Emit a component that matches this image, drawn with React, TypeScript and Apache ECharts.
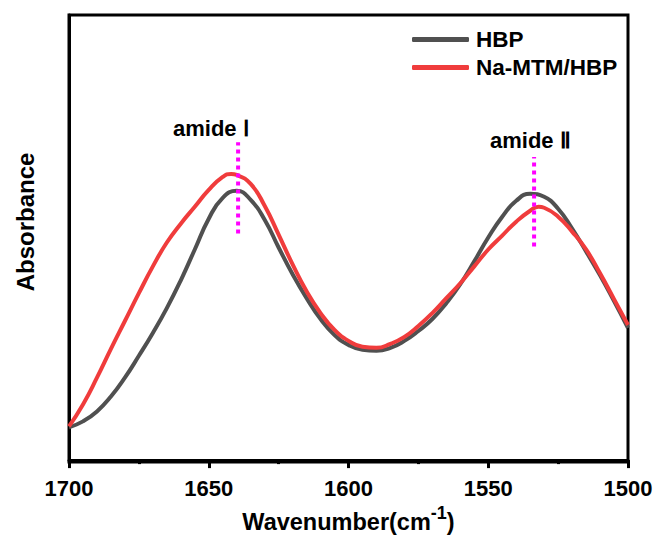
import React, { useEffect, useRef } from "react";
import * as echarts from "echarts";

const xTicks = [1700, 1650, 1600, 1550, 1500];

const hbpX = [1700, 1695, 1690, 1685, 1680, 1675, 1670, 1665, 1660, 1655, 1650, 1645, 1640, 1635, 1630, 1625, 1620, 1615, 1610, 1605, 1600, 1595, 1590, 1585, 1580, 1575, 1570, 1565, 1560, 1555, 1550, 1545, 1540, 1535, 1530, 1525, 1520, 1515, 1510, 1505, 1500];
const hbpY = [33, 39, 49, 64, 83, 105, 128, 153, 181, 212, 243, 264, 271, 262, 242, 214, 187, 163, 142, 126, 116, 111, 110, 113, 120, 130, 142, 158, 177, 200, 224, 245, 261, 268, 265, 253, 233, 210, 186, 160, 133];

const naX = [1700, 1695, 1690, 1685, 1680, 1675, 1670, 1665, 1660, 1655, 1650, 1645, 1642, 1640, 1635, 1630, 1625, 1620, 1615, 1610, 1605, 1600, 1595, 1590, 1585, 1580, 1575, 1570, 1565, 1560, 1555, 1550, 1545, 1540, 1535, 1532, 1530, 1525, 1520, 1515, 1510, 1505, 1500];
const naY = [34, 56, 83, 112, 140, 168, 195, 219, 238, 255, 272, 285, 288, 287, 278, 256, 227, 197, 170, 148, 131, 120, 114, 113, 117, 124, 135, 148, 163, 178, 195, 212, 226, 240, 251, 255, 254, 245, 230, 212, 188, 162, 136];

const amide1X = [1639.5, 1639.5];
const amide1Y = [228, 320];
const amide2X = [1533.6, 1533.6];
const amide2Y = [215, 305];

const seriesNames = ["HBP", "Na-MTM/HBP"];
const annotations = ["amide Ⅰ", "amide Ⅱ"];

const zip = (xs: number[], ys: number[]) => xs.map((x, i) => [x, ys[i]]);

const FONT = "'Liberation Sans', Arial, sans-serif";

export default function App() {
  const ref = useRef<HTMLDivElement>(null);
  useEffect(() => {
    if (!ref.current) return;
    const chart = echarts.init(ref.current, undefined, { renderer: "svg" });
    chart.setOption({
      animation: false,
      backgroundColor: "#ffffff",
      grid: {
        left: 69,
        right: 29,
        top: 15,
        bottom: 74,
        show: true,
        borderColor: "#000",
        borderWidth: 3,
        containLabel: false,
      },
      legend: {
        data: seriesNames,
        orient: "vertical",
        left: 407,
        top: 23,
        itemWidth: 57,
        itemHeight: 5,
        itemGap: 5,
        icon: "roundRect",
        textStyle: { fontFamily: FONT, fontWeight: "bold", fontSize: 22.5, color: "#000", padding: [0, 0, 0, 2] },
      },
      xAxis: {
        type: "value",
        min: 1500,
        max: 1700,
        interval: 50,
        inverse: true,
        axisLine: { show: true, lineStyle: { color: "#000", width: 3 } },
        axisTick: { show: true, length: 8, lineStyle: { width: 3, color: "#000" } },
        minorTick: { show: true, splitNumber: 2, length: 4, lineStyle: { width: 3, color: "#000" } },
        splitLine: { show: false },
        axisLabel: {
          margin: 15,
          fontFamily: FONT,
          fontWeight: "bold",
          fontSize: 22,
          color: "#000",
          formatter: (v: number) => (xTicks.includes(v) ? String(v) : ""),
        },
        name: "{a|Wavenumber(cm}{b|-1}{a|)}",
        nameLocation: "middle",
        nameGap: 40,
        nameTextStyle: {
          rich: {
            a: { fontFamily: FONT, fontWeight: "bold", fontSize: 23.5, color: "#000", verticalAlign: "bottom", lineHeight: 30 },
            b: { fontFamily: FONT, fontWeight: "bold", fontSize: 18, color: "#000", verticalAlign: "top", padding: [0, 0, 12, 0], lineHeight: 30 },
          },
        },
      },
      yAxis: {
        type: "value",
        min: -2,
        max: 448,
        axisLine: { show: true, lineStyle: { color: "#000", width: 3 } },
        axisTick: { show: false },
        axisLabel: { show: false },
        splitLine: { show: false },
      },
      graphic: [
        {
          type: "text",
          x: 25,
          y: 222,
          rotation: Math.PI / 2,
          style: {
            text: "Absorbance",
            fontFamily: FONT,
            fontWeight: "bold",
            fontSize: 24,
            fill: "#000",
            align: "center",
            verticalAlign: "middle",
          },
        },
        {
          type: "text",
          x: 173,
          y: 128,
          style: {
            text: annotations[0],
            fontFamily: FONT,
            fontWeight: "bold",
            fontSize: 22,
            fill: "#000",
            align: "left",
            verticalAlign: "middle",
          },
        },
        {
          type: "text",
          x: 490,
          y: 140,
          style: {
            text: annotations[1],
            fontFamily: FONT,
            fontWeight: "bold",
            fontSize: 22,
            fill: "#000",
            align: "left",
            verticalAlign: "middle",
          },
        },
      ],
      series: [
        {
          name: "amide1",
          type: "line",
          data: zip(amide1X, amide1Y),
          showSymbol: false,
          lineStyle: { color: "#ff00ff", width: 4, type: [4, 4] },
          z: 3,
        },
        {
          name: "amide2",
          type: "line",
          data: zip(amide2X, amide2Y),
          showSymbol: false,
          lineStyle: { color: "#ff00ff", width: 4, type: [4, 4] },
          z: 3,
        },
        {
          name: seriesNames[0],
          type: "line",
          data: zip(hbpX, hbpY),
          showSymbol: false,
          smooth: 0.5,
          color: "#505050",
          lineStyle: { color: "#505050", width: 4 },
          z: 2,
        },
        {
          name: seriesNames[1],
          type: "line",
          data: zip(naX, naY),
          showSymbol: false,
          smooth: 0.5,
          color: "#f03c3c",
          lineStyle: { color: "#f03c3c", width: 4 },
          z: 2,
        },
      ],
    });
    return () => chart.dispose();
  }, []);
  return <div ref={ref} style={{ position: "absolute", left: 0, top: 0, width: 657, height: 539 }} />;
}
